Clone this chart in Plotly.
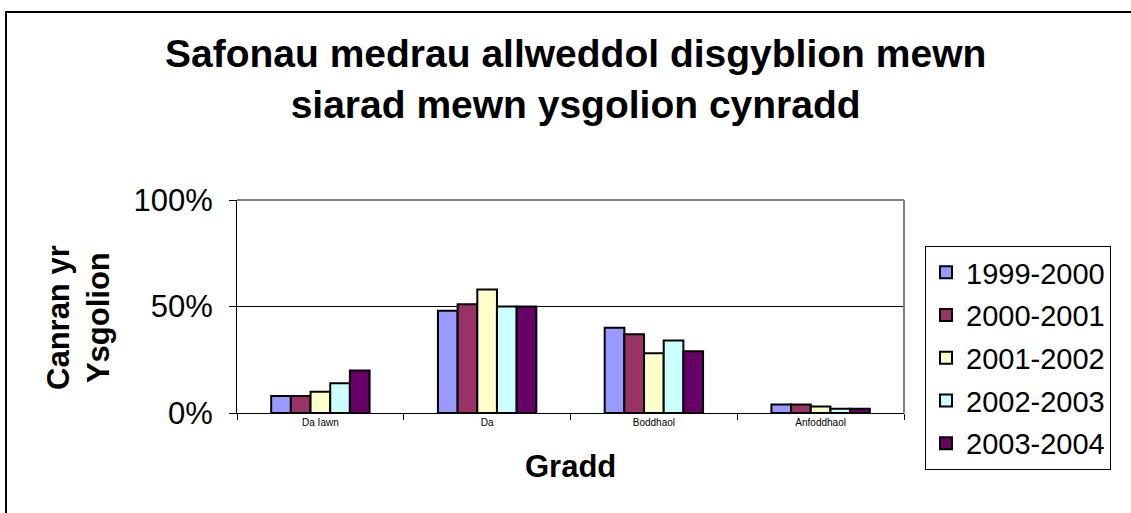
import plotly.graph_objects as go

categories = ["Da Iawn", "Da", "Boddhaol", "Anfoddhaol"]
series_names = ["1999-2000", "2000-2001", "2001-2002", "2002-2003", "2003-2004"]
v1999 = [8, 48, 40, 4]
v2000 = [8, 51, 37, 4]
v2001 = [10, 58, 28, 3]
v2002 = [14, 50, 34, 2]
v2003 = [20, 50, 29, 2]
series_values = [v1999, v2000, v2001, v2002, v2003]
colors = ["#9999FF", "#993366", "#FFFFCC", "#CCFFFF", "#660066"]
y_ticks = [0, 50, 100]
y_ticktext = ["0%", "50%", "100%"]

W, H = 1131, 513
# plot data area in page pixels
XL, XR, YT, YB = 237, 904, 200, 413
# outer plotting region (larger than the data area so the legend fits)
MT, MB = 150, 463

def px(x):
    return (x - XL) / (XR - XL)

def py(y):
    return (MB - y) / (MB - MT)

fig = go.Figure()
for i, (name, vals) in enumerate(zip(series_names, series_values)):
    fig.add_trace(go.Bar(
        x=categories, y=vals, name=name,
        marker=dict(color=colors[i], line=dict(color="black", width=2)),
        legendgroup=f"g{i}",
    ))

FONT = "Arial, Liberation Sans, sans-serif"

fig.update_layout(
    width=W, height=H,
    margin=dict(l=XL, r=W - XR, t=MT, b=H - MB, pad=0),
    paper_bgcolor="white", plot_bgcolor="white",
    barmode="group", bargap=0.41, bargroupgap=0,
    showlegend=True,
    legend=dict(
        x=px(925), y=py(246), xanchor="left", yanchor="top",
        bordercolor="black", borderwidth=1,
        font=dict(family=FONT, size=29, color="black"),
        traceorder="grouped", tracegroupgap=2,
        itemwidth=30,
    ),
    font=dict(family=FONT, color="black"),
)

fig.update_xaxes(
    type="category",
    showline=True, linecolor="black", linewidth=1,
    ticks="outside", tickson="boundaries", ticklen=6, tickcolor="black",
    tickfont=dict(family=FONT, size=10, color="black"),
    showgrid=False, zeroline=False,
)
fig.update_yaxes(
    domain=[py(YB), py(YT)],
    range=[0, 100], tickvals=y_ticks, ticktext=y_ticktext,
    showline=True, linecolor="black", linewidth=1,
    ticks="outside", ticklen=7, tickcolor="black",
    tickfont=dict(family=FONT, size=31, color="black"),
    ticklabelstandoff=10,
    showgrid=False, zeroline=False,
)

shapes = [
    dict(type="line", xref="x domain", yref="y", x0=0, x1=1, y0=50, y1=50,
         line=dict(color="black", width=1), layer="below"),
    dict(type="line", xref="x domain", yref="y domain", x0=0, x1=1, y0=1, y1=1,
         line=dict(color="#808080", width=2)),
    dict(type="line", xref="x domain", yref="y domain", x0=1, x1=1, y0=0, y1=1,
         line=dict(color="#808080", width=2)),
    dict(type="rect", xref="paper", yref="paper",
         x0=px(6), x1=px(1145), y0=py(525), y1=py(12),
         line=dict(color="black", width=2)),
]
fig.update_layout(shapes=shapes)

fig.add_annotation(
    text="<b>Safonau medrau allweddol disgyblion mewn<br>siarad mewn ysgolion cynradd</b>",
    xref="paper", yref="paper", x=px(575), y=py(79),
    xanchor="center", yanchor="middle", showarrow=False,
    font=dict(family=FONT, size=39, color="black"),
)
fig.add_annotation(
    text="<b>Canran yr<br>Ysgolion</b>",
    xref="paper", yref="paper", x=px(78), y=py(318),
    xanchor="center", yanchor="middle", showarrow=False, textangle=-90,
    font=dict(family=FONT, size=31, color="black"),
)
fig.add_annotation(
    text="<b>Gradd</b>",
    xref="paper", yref="paper", x=px(570), y=py(466),
    xanchor="center", yanchor="middle", showarrow=False,
    font=dict(family=FONT, size=31, color="black"),
)

fig.write_html(
    "out.html",
    config={"displayModeBar": False},
    post_script="document.body.style.margin='0px';document.body.style.overflow='hidden';",
)
